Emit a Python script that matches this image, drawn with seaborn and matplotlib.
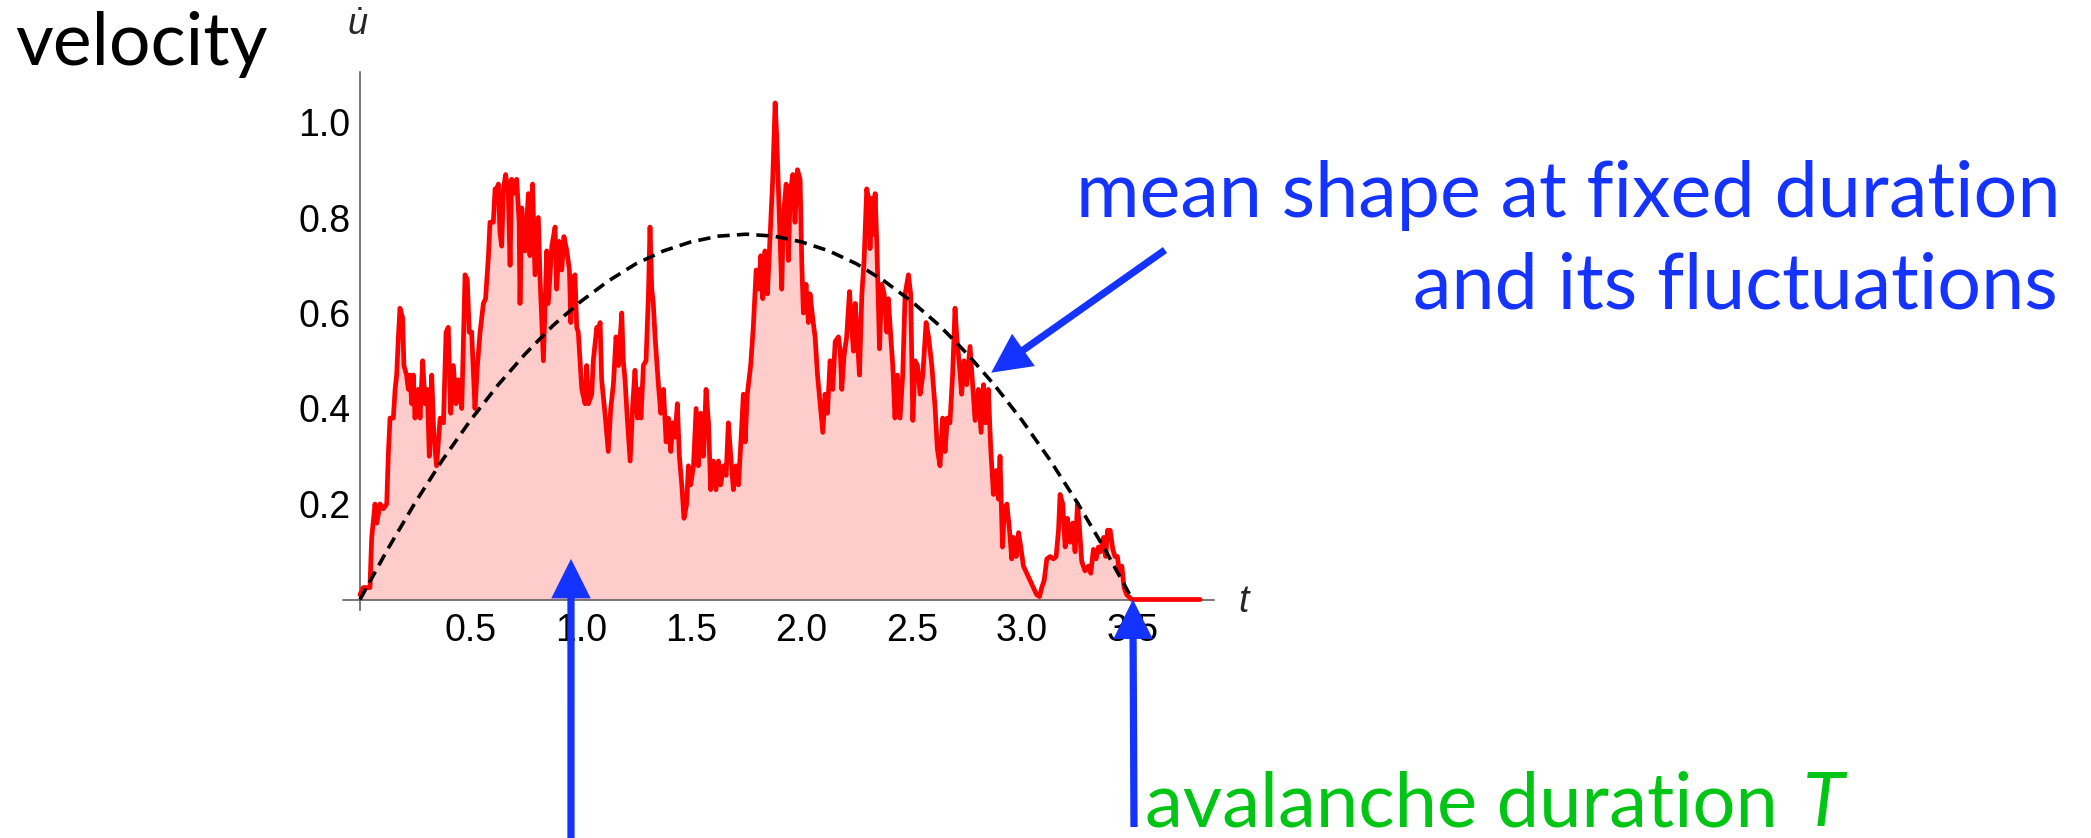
import matplotlib
matplotlib.use("Agg")
import matplotlib.pyplot as plt
import seaborn as sns
from matplotlib.ticker import FixedLocator, MultipleLocator

# ---------------- data ----------------
t_trace = [0.000, 0.015, 0.045, 0.053, 0.068, 0.076, 0.091, 0.106, 0.121, 0.128, 0.136, 0.151, 0.159, 0.166,
           0.174, 0.181, 0.193, 0.199, 0.211, 0.219, 0.227, 0.234, 0.242, 0.249, 0.264, 0.272, 0.284, 0.295,
           0.305, 0.314, 0.325, 0.335, 0.347, 0.363, 0.378, 0.390, 0.400, 0.411, 0.423, 0.435, 0.446, 0.461,
           0.476, 0.486, 0.495, 0.506, 0.521, 0.532, 0.544, 0.559, 0.569, 0.582, 0.589, 0.604, 0.612, 0.619,
           0.627, 0.634, 0.642, 0.650, 0.660, 0.672, 0.680, 0.687, 0.695, 0.710, 0.721, 0.725, 0.733, 0.748,
           0.763, 0.770, 0.782, 0.793, 0.808, 0.816, 0.823, 0.831, 0.846, 0.853, 0.869, 0.884, 0.891, 0.903,
           0.914, 0.924, 0.937, 0.949, 0.955, 0.964, 0.974, 0.982, 0.989, 1.005, 1.020, 1.027, 1.035, 1.050,
           1.057, 1.073, 1.080, 1.088, 1.095, 1.110, 1.125, 1.136, 1.148, 1.160, 1.171, 1.186, 1.193, 1.201,
           1.211, 1.224, 1.236, 1.246, 1.257, 1.266, 1.273, 1.284, 1.296, 1.307, 1.314, 1.322, 1.329, 1.337,
           1.352, 1.363, 1.375, 1.387, 1.397, 1.408, 1.417, 1.427, 1.438, 1.447, 1.458, 1.468, 1.480, 1.488,
           1.498, 1.511, 1.523, 1.533, 1.544, 1.556, 1.568, 1.579, 1.589, 1.601, 1.613, 1.624, 1.634, 1.647,
           1.659, 1.669, 1.680, 1.692, 1.704, 1.715, 1.727, 1.737, 1.745, 1.755, 1.770, 1.782, 1.795, 1.805,
           1.816, 1.825, 1.835, 1.846, 1.858, 1.870, 1.881, 1.888, 1.900, 1.911, 1.918, 1.931, 1.941, 1.949,
           1.961, 1.971, 1.982, 1.994, 2.002, 2.009, 2.021, 2.032, 2.039, 2.051, 2.062, 2.073, 2.085, 2.097,
           2.107, 2.118, 2.130, 2.142, 2.153, 2.168, 2.176, 2.183, 2.193, 2.205, 2.218, 2.228, 2.236, 2.244,
           2.251, 2.263, 2.274, 2.284, 2.296, 2.304, 2.311, 2.319, 2.327, 2.334, 2.342, 2.354, 2.364, 2.375,
           2.387, 2.394, 2.405, 2.414, 2.424, 2.435, 2.447, 2.459, 2.470, 2.485, 2.495, 2.505, 2.515, 2.526,
           2.538, 2.550, 2.565, 2.576, 2.591, 2.606, 2.616, 2.628, 2.640, 2.651, 2.661, 2.673, 2.685, 2.696,
           2.704, 2.716, 2.726, 2.737, 2.749, 2.764, 2.776, 2.787, 2.802, 2.814, 2.825, 2.835, 2.847, 2.858,
           2.870, 2.882, 2.893, 2.900, 2.911, 2.920, 2.931, 2.943, 2.953, 2.961, 2.973, 2.984, 2.994, 3.006,
           3.021, 3.036, 3.051, 3.066, 3.079, 3.089, 3.100, 3.112, 3.127, 3.142, 3.154, 3.165, 3.172, 3.184,
           3.195, 3.205, 3.217, 3.229, 3.240, 3.251, 3.260, 3.270, 3.285, 3.301, 3.311, 3.323, 3.335, 3.346,
           3.356, 3.369, 3.379, 3.387, 3.399, 3.411, 3.421, 3.432, 3.441, 3.452, 3.462, 3.474, 3.497, 3.807]
v_trace = [0.01, 0.025, 0.025, 0.13, 0.20, 0.16, 0.20, 0.19, 0.20, 0.30, 0.38, 0.38, 0.44, 0.47,
           0.55, 0.61, 0.59, 0.49, 0.47, 0.44, 0.47, 0.41, 0.47, 0.38, 0.44, 0.38, 0.50, 0.41,
           0.44, 0.30, 0.47, 0.34, 0.28, 0.38, 0.37, 0.56, 0.57, 0.39, 0.49, 0.41, 0.46, 0.40,
           0.68, 0.67, 0.56, 0.56, 0.40, 0.49, 0.56, 0.62, 0.63, 0.72, 0.79, 0.79, 0.86, 0.86,
           0.87, 0.77, 0.74, 0.86, 0.89, 0.85, 0.70, 0.88, 0.85, 0.88, 0.79, 0.62, 0.82, 0.73,
           0.85, 0.72, 0.87, 0.68, 0.80, 0.67, 0.59, 0.50, 0.73, 0.62, 0.74, 0.78, 0.65, 0.75,
           0.69, 0.76, 0.73, 0.69, 0.58, 0.67, 0.68, 0.57, 0.56, 0.44, 0.41, 0.49, 0.41, 0.43,
           0.50, 0.57, 0.56, 0.58, 0.46, 0.39, 0.31, 0.40, 0.45, 0.55, 0.49, 0.60, 0.50, 0.46,
           0.38, 0.29, 0.41, 0.48, 0.38, 0.44, 0.38, 0.49, 0.50, 0.64, 0.78, 0.65, 0.62, 0.55,
           0.45, 0.39, 0.44, 0.33, 0.38, 0.31, 0.37, 0.34, 0.41, 0.30, 0.24, 0.17, 0.20, 0.28,
           0.24, 0.28, 0.40, 0.28, 0.39, 0.30, 0.44, 0.37, 0.23, 0.29, 0.23, 0.29, 0.24, 0.28,
           0.26, 0.37, 0.30, 0.23, 0.28, 0.24, 0.34, 0.43, 0.33, 0.43, 0.49, 0.57, 0.69, 0.65,
           0.72, 0.63, 0.73, 0.64, 0.76, 0.88, 1.04, 0.97, 0.80, 0.65, 0.80, 0.87, 0.71, 0.85,
           0.89, 0.79, 0.90, 0.88, 0.70, 0.60, 0.66, 0.58, 0.64, 0.59, 0.55, 0.47, 0.41, 0.35,
           0.43, 0.39, 0.50, 0.44, 0.54, 0.55, 0.52, 0.44, 0.51, 0.55, 0.645, 0.57, 0.52, 0.62,
           0.57, 0.47, 0.64, 0.71, 0.86, 0.84, 0.735, 0.84, 0.765, 0.85, 0.74, 0.525, 0.66, 0.64,
           0.56, 0.63, 0.55, 0.49, 0.38, 0.47, 0.38, 0.47, 0.64, 0.68, 0.64, 0.375, 0.50, 0.49,
           0.43, 0.47, 0.58, 0.55, 0.49, 0.40, 0.315, 0.28, 0.38, 0.31, 0.38, 0.37, 0.47, 0.61,
           0.55, 0.49, 0.43, 0.50, 0.45, 0.53, 0.45, 0.375, 0.44, 0.35, 0.45, 0.37, 0.44, 0.315,
           0.22, 0.27, 0.21, 0.30, 0.11, 0.19, 0.20, 0.145, 0.085, 0.13, 0.09, 0.14, 0.11, 0.07,
           0.055, 0.04, 0.025, 0.01, 0.006, 0.025, 0.04, 0.085, 0.09, 0.085, 0.09, 0.145, 0.22, 0.20,
           0.11, 0.17, 0.12, 0.16, 0.10, 0.20, 0.15, 0.08, 0.06, 0.07, 0.055, 0.105, 0.085, 0.11,
           0.10, 0.13, 0.09, 0.145, 0.145, 0.105, 0.09, 0.09, 0.055, 0.07, 0.025, 0.01, 0.0, 0.0]

t_mean = [0.0, 0.125, 0.25, 0.375, 0.5, 0.625, 0.75, 0.875, 1.0, 1.125, 1.25, 1.375, 1.5, 1.625, 1.75,
          1.875, 2.0, 2.125, 2.25, 2.375, 2.5, 2.625, 2.75, 2.875, 3.0, 3.125, 3.25, 3.375, 3.5]
v_mean = [0.0, 0.105, 0.203, 0.293, 0.375, 0.449, 0.515, 0.574, 0.624, 0.667, 0.703, 0.730, 0.749, 0.761,
          0.765, 0.761, 0.749, 0.730, 0.703, 0.667, 0.624, 0.574, 0.515, 0.449, 0.375, 0.293, 0.203,
          0.105, 0.0]

x_ticks = [0.5, 1.0, 1.5, 2.0, 2.5, 3.0, 3.5]
x_tick_labels = ["0.5", "1.0", "1.5", "2.0", "2.5", "3.0", "3.5"]
y_ticks = [0.2, 0.4, 0.6, 0.8, 1.0]
y_tick_labels = ["0.2", "0.4", "0.6", "0.8", "1.0"]

title_left = "velocity"
note_line1 = "mean shape at fixed duration"
note_line2 = "and its fluctuations"
note_bottom = "avalanche duration"
note_bottom_sym = "T"

# ---------------- style ----------------
sns.set_theme(style="white")
plt.rcParams["font.family"] = ["Liberation Sans", "DejaVu Sans"]
plt.rcParams["mathtext.fontset"] = "custom"
plt.rcParams["mathtext.it"] = "Liberation Sans:italic"
plt.rcParams["mathtext.rm"] = "Liberation Sans"

BLUE = "#1433FF"
GREEN = "#00C514"
RED = "#FF0000"
PINK = "#FFCCCC"
AXC = "#555555"
LABEL_FONT = ["Lato", "DejaVu Sans"]

W, H = 2091, 838
fig = plt.figure(figsize=(W / 100, H / 100), dpi=100)

# pixel mapping of the axes (t=0 at x=360 px, 220.7 px/unit; v=0 at y=599.5 px, 477.5 px/unit)
x0, x1 = -0.077, 3.87
y0, y1 = -0.022, 1.105
lp, rp = 360 + x0 * 220.7, 360 + x1 * 220.7
bp, tp = 599.5 - y0 * 477.5, 599.5 - y1 * 477.5
ax = fig.add_axes([lp / W, 1 - bp / H, (rp - lp) / W, (bp - tp) / H])
ax.set_xlim(x0, x1)
ax.set_ylim(y0, y1)
ax.patch.set_alpha(0)

# fill + trace
ax.fill_between(t_trace, v_trace, 0, color=PINK, lw=0, zorder=1)
sns.lineplot(x=t_trace, y=v_trace, ax=ax, color=RED, linewidth=3.4, sort=False,
             estimator=None, zorder=3)
sns.lineplot(x=t_mean, y=v_mean, ax=ax, color="black", linewidth=2.6, sort=False,
             estimator=None, zorder=4)
ax.lines[-1].set_dashes((3.4, 2.0))
ax.lines[-1].set_dash_capstyle("butt")

# axes Mathematica style
for s in ["top", "right"]:
    ax.spines[s].set_visible(False)
ax.spines["left"].set_position(("data", 0))
ax.spines["bottom"].set_position(("data", 0))
for s in ["left", "bottom"]:
    ax.spines[s].set_color(AXC)
    ax.spines[s].set_linewidth(1.1)
    ax.spines[s].set_zorder(2.5)

ax.xaxis.set_major_locator(FixedLocator(x_ticks))
ax.set_xticklabels(x_tick_labels)
ax.xaxis.set_minor_locator(MultipleLocator(0.1))
ax.yaxis.set_major_locator(FixedLocator(y_ticks))
ax.set_yticklabels(y_tick_labels)
ax.yaxis.set_minor_locator(MultipleLocator(0.05))
ax.tick_params(which="both", direction="in", color="#444444", width=1.0)
ax.tick_params(which="major", length=7.2, labelsize=27, labelcolor="black")
ax.tick_params(which="minor", length=4.3)
ax.tick_params(axis="x", which="major", pad=10)
ax.tick_params(axis="y", which="major", pad=7)
ax.set_xlabel("")
ax.set_ylabel("")

# axis labels
fig.text(358 / W, 1 - 35 / H, r"$\dot{u}$", fontsize=26, ha="center", va="baseline")
fig.text(1243 / W, 1 - 612 / H, "t", fontsize=27, style="italic", ha="center", va="baseline",
         family=["Liberation Sans"])

# annotations text
t_vel = fig.text(15 / W, 1 - 65 / H, title_left, fontsize=50, ha="left", va="baseline",
                 family=LABEL_FONT, color="black")
t_m1 = fig.text(2061 / W, 1 - 217 / H, note_line1, fontsize=50, ha="right", va="baseline",
                family=LABEL_FONT, color=BLUE)
t_m2 = fig.text(2058 / W, 1 - 308 / H, note_line2, fontsize=50, ha="right", va="baseline",
                family=LABEL_FONT, color=BLUE)
t_av = fig.text(1145 / W, 1 - 826 / H, note_bottom, fontsize=50, ha="left", va="baseline",
                family=LABEL_FONT, color=GREEN)

fig.canvas.draw()
r = fig.canvas.get_renderer()


def fit(txt, target_w):
    bb = txt.get_window_extent(r)
    txt.set_fontsize(txt.get_fontsize() * target_w / bb.width)


fit(t_vel, 252)
fit(t_m1, 983)
t_m2.set_fontsize(t_m1.get_fontsize())
fit(t_av, 632)
fig.text(1803 / W, 1 - 826 / H, note_bottom_sym, fontsize=t_av.get_fontsize(), ha="left",
         va="baseline", family=LABEL_FONT, style="italic", color=GREEN)

# arrows
akw = dict(arrowstyle="-|>,head_length=20,head_width=10", color=BLUE, lw=5.2,
           shrinkA=0, shrinkB=0, mutation_scale=1, joinstyle="miter", capstyle="butt")
ax.annotate("", xy=(0.956, 0.085), xycoords="data", xytext=(571, -5), textcoords="figure pixels",
            arrowprops=akw, annotation_clip=False, zorder=10)
ax.annotate("", xy=(3.502, 0.0), xycoords="data", xytext=(1134, 11), textcoords="figure pixels",
            arrowprops=akw, annotation_clip=False, zorder=10)
ax.annotate("", xy=(2.86, 0.475), xycoords="data", xytext=(1165, 588), textcoords="figure pixels",
            arrowprops=akw, annotation_clip=False, zorder=10)

fig.savefig("out.png", dpi=100)
